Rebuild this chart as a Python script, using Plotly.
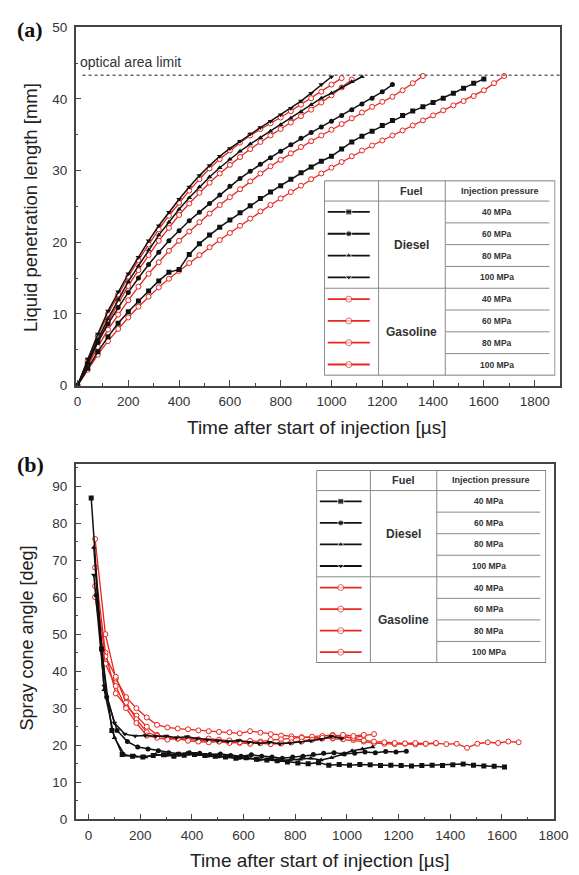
import plotly.graph_objects as go

W, H = 579, 875

# ---------------- (a) Liquid penetration length [mm] ----------------
OPTICAL_LIMIT = 43.3

pen_d40_t = list(range(0, 1601, 40))
pen_d40 = [0, 2.4, 4.7, 6.8, 8.7, 10.3, 11.8, 13.2, 14.6, 15.8,
           16.2, 18.3, 19.8, 21.0, 22.1, 23.1, 24.1, 25.1, 26.1, 27.0,
           27.9, 28.8, 29.7, 30.5, 31.3, 32.0, 33.0, 34.0, 34.8, 35.5,
           36.3, 37.0, 37.7, 38.3, 38.9, 39.5, 40.1, 40.8, 41.5, 42.2, 42.8]

pen_d60_t = list(range(0, 1241, 40))
pen_d60 = [0, 3.1, 6.0, 8.6, 10.9, 13.0, 15.0, 16.9, 18.6, 20.2,
           21.6, 23.0, 24.2, 25.4, 26.6, 27.8, 28.9, 29.9, 30.9, 31.8,
           32.7, 33.6, 34.5, 35.3, 36.1, 36.9, 37.7, 38.5, 39.3, 40.1, 41.0, 42.0]

pen_d80_t = list(range(0, 1121, 40))
pen_d80 = [0, 3.3, 6.4, 9.3, 12.0, 14.5, 16.7, 18.9, 21.0, 22.8,
           24.6, 26.2, 27.7, 29.1, 30.4, 31.6, 32.7, 33.7, 34.6, 35.5,
           36.4, 37.3, 38.2, 39.2, 40.1, 40.8, 41.6, 42.4, 43.1]

pen_d100_t = list(range(0, 1001, 40))
pen_d100 = [0, 3.7, 7.2, 10.4, 13.1, 15.6, 17.9, 20.2, 22.3, 24.2,
            26.0, 27.7, 29.3, 30.7, 32.0, 33.1, 34.1, 35.1, 36.0, 36.9,
            37.8, 38.7, 39.7, 40.8, 42.0, 43.1]

pen_g40_t = list(range(0, 1681, 40))
pen_g40 = [0, 2.2, 4.3, 6.2, 7.9, 9.5, 11.0, 12.4, 13.7, 14.9,
           16.0, 17.1, 18.2, 19.3, 20.3, 21.3, 22.3, 23.3, 24.3, 25.2,
           26.1, 27.0, 27.9, 28.8, 29.6, 30.4, 31.2, 32.0, 32.8, 33.5,
           34.2, 34.9, 35.6, 36.3, 37.0, 37.7, 38.4, 39.1, 39.7, 40.4,
           41.2, 42.2, 43.2]

pen_g60_t = list(range(0, 1361, 40))
pen_g60 = [0, 2.8, 5.4, 7.8, 9.9, 11.9, 13.8, 15.6, 17.2, 18.8,
           20.2, 21.5, 22.8, 24.0, 25.2, 26.3, 27.4, 28.5, 29.6, 30.6,
           31.5, 32.4, 33.3, 34.1, 34.9, 35.7, 36.5, 37.3, 38.1, 38.9,
           39.6, 40.3, 41.2, 42.2, 43.2]

pen_g80_t = list(range(0, 1081, 40))
pen_g80 = [0, 3.1, 6.1, 8.9, 11.5, 13.9, 16.1, 18.2, 20.2, 22.0,
           23.8, 25.4, 26.9, 28.3, 29.6, 30.8, 31.9, 33.0, 34.0, 34.9,
           35.8, 36.7, 37.6, 38.5, 39.5, 40.5, 41.6, 42.7]

pen_g100_t = list(range(0, 1041, 40))
pen_g100 = [0, 3.5, 6.9, 10.0, 12.7, 15.2, 17.5, 19.7, 21.8, 23.7,
            25.5, 27.2, 28.8, 30.3, 31.6, 32.8, 33.9, 34.9, 35.8, 36.6,
            37.4, 38.3, 39.2, 40.1, 41.0, 42.0, 42.9]

# ---------------- (b) Spray cone angle [deg] ----------------
ang_d40_t = list(range(10, 1611, 40))
ang_d40 = [86.8, 46, 24, 17.5, 17.0, 16.8, 17.2, 17.4, 17.0, 17.3,
           17.5, 17.2, 17.0, 16.8, 16.5, 16.6, 16.2, 16.0, 15.8, 15.5,
           15.2, 15.0, 15.3, 14.6, 14.8, 14.6, 14.8, 14.7, 14.5, 14.6,
           14.5, 14.4, 14.5, 14.6, 14.5, 14.7, 14.9, 14.6, 14.4, 14.3, 14.1]

ang_d60_t = list(range(30, 1231, 40))
ang_d60 = [60.5, 33, 24, 21, 19.5, 19.0, 18.5, 18.0, 17.6, 18.0,
           17.8, 17.5, 17.6, 17.2, 17.0, 17.4, 17.0, 16.8, 16.5, 16.8,
           17.0, 17.5, 17.8, 18.0, 17.6, 17.8, 18.2, 18.0, 18.3, 18.2, 18.4]

ang_d80_t = list(range(20, 1101, 40))
ang_d80 = [73.4, 35, 22, 17.3, 17.0, 16.8, 17.5, 17.2, 17.6, 17.8,
           17.4, 17.0, 16.8, 17.0, 16.4, 16.5, 16.0, 16.3, 15.8, 16.0,
           16.2, 16.5, 16.0, 16.6, 17.5, 18.5, 19.0, 19.5]

ang_d100_t = list(range(20, 981, 40))
ang_d100 = [66, 36, 26, 23, 22.5, 22.6, 22.4, 22.5, 22.0, 22.3,
            21.8, 21.5, 21.2, 21.0, 21.3, 20.8, 20.5, 20.8, 20.4, 20.6,
            20.8, 21.2, 21.6, 22.4, 21.8]

ang_g40_t = list(range(25, 1666, 40))
ang_g40 = [75.7, 50, 38, 33, 30, 27.5, 25.5, 24.8, 24.5, 24.3,
           24.0, 23.8, 23.6, 23.5, 23.2, 23.8, 23.4, 23.0, 22.6, 22.4,
           22.2, 22.0, 22.0, 21.8, 21.6, 21.4, 21.0, 20.6, 20.4, 20.3,
           20.4, 20.2, 20.4, 20.5, 20.3, 20.4, 19.3, 20.4, 20.8, 20.6,
           21.0, 20.8]

ang_g60_t = list(range(25, 1346, 40))
ang_g60 = [68, 45, 34, 30.5, 28, 25, 22.8, 22.0, 21.8, 21.5,
           21.3, 21.2, 21.0, 20.8, 20.6, 20.5, 20.6, 20.4, 20.5, 20.8,
           21.2, 21.5, 21.8, 22.0, 22.4, 21.8, 21.3, 21.0, 20.8, 20.6,
           20.5, 20.6, 20.4, 20.6]

ang_g80_t = list(range(25, 1106, 40))
ang_g80 = [63, 44, 38.5, 31.5, 27, 23.5, 22.5, 22.0, 21.8, 22.0,
           21.6, 21.8, 21.5, 21.3, 21.0, 21.2, 21.0, 21.4, 21.6, 21.8,
           22.0, 22.3, 22.5, 22.8, 22.4, 22.0, 22.6, 23.0]

ang_g100_t = list(range(25, 1066, 40))
ang_g100 = [60, 42, 36, 30, 26, 22.6, 22.0, 21.5, 21.8, 21.2,
            21.0, 20.8, 21.0, 20.6, 20.8, 20.4, 20.6, 20.3, 20.5, 20.8,
            21.0, 21.5, 22.0, 22.5, 22.8, 22.5, 22.8]

fuels = ["Diesel", "Gasoline"]
pressures = ["40 MPa", "60 MPa", "80 MPa", "100 MPa"]
x_ticks = [0, 200, 400, 600, 800, 1000, 1200, 1400, 1600, 1800]

BLACK = "#111111"
RED = "#e8261f"
d_symbols = ["square", "circle", "triangle-up", "triangle-down"]

pen_diesel = [(pen_d40_t, pen_d40), (pen_d60_t, pen_d60), (pen_d80_t, pen_d80), (pen_d100_t, pen_d100)]
pen_gas = [(pen_g40_t, pen_g40), (pen_g60_t, pen_g60), (pen_g80_t, pen_g80), (pen_g100_t, pen_g100)]
ang_diesel = [(ang_d40_t, ang_d40), (ang_d60_t, ang_d60), (ang_d80_t, ang_d80), (ang_d100_t, ang_d100)]
ang_gas = [(ang_g40_t, ang_g40), (ang_g60_t, ang_g60), (ang_g80_t, ang_g80), (ang_g100_t, ang_g100)]

fig = go.Figure()


def add_series(series_d, series_g, xa, ya):
    for (t, v) in series_g:
        fig.add_trace(go.Scatter(x=t, y=v, xaxis=xa, yaxis=ya, mode="lines+markers",
                                 line=dict(color=RED, width=1.3),
                                 marker=dict(symbol="circle", size=5, color="white",
                                             line=dict(color=RED, width=1)),
                                 showlegend=False, hoverinfo="skip"))
    for (t, v), s in zip(series_d, d_symbols):
        fig.add_trace(go.Scatter(x=t, y=v, xaxis=xa, yaxis=ya, mode="lines+markers",
                                 line=dict(color=BLACK, width=1.5),
                                 marker=dict(symbol=s, size=5, color=BLACK),
                                 showlegend=False, hoverinfo="skip"))


add_series(pen_diesel, pen_gas, "x", "y")
add_series(ang_diesel, ang_gas, "x2", "y2")

# optical limit line
fig.add_shape(type="line", xref="x", yref="y", x0=20, x1=1900, y0=OPTICAL_LIMIT, y1=OPTICAL_LIMIT,
              line=dict(color="#666666", width=1.5, dash="dot"))


def px(p):
    return p / W


def py(p):
    return 1 - p / H


AX_LINE = "#444444"
TICK_FONT = dict(family="Liberation Sans, Arial, sans-serif", size=13.5, color="#333333")


def axis_common():
    return dict(showline=True, mirror=True, linecolor=AX_LINE, linewidth=1.5,
                showgrid=False, zeroline=False, ticks="inside", ticklen=6,
                tickwidth=1.2, tickcolor=AX_LINE, tickfont=TICK_FONT)


layout = dict(
    width=W, height=H, margin=dict(l=0, r=0, t=0, b=0),
    paper_bgcolor="white", plot_bgcolor="white", showlegend=False,
    xaxis=dict(domain=[px(67.7), px(566.7)], range=[-7, 1900], anchor="y",
               tickmode="array", tickvals=x_ticks,
               minor=dict(ticks="inside", ticklen=3, dtick=100, tick0=0, tickcolor=AX_LINE),
               ticklabelstandoff=3, **axis_common()),
    yaxis=dict(domain=[py(377), py(12.5)], range=[0, 50], anchor="x",
               tickmode="linear", tick0=0, dtick=10,
               minor=dict(ticks="inside", ticklen=3, dtick=5, tick0=0, tickcolor=AX_LINE),
               ticklabelstandoff=4, **axis_common()),
    xaxis2=dict(domain=[px(67.7), px(560)], range=[-50, 1800], anchor="y2",
                tickmode="array", tickvals=x_ticks,
                minor=dict(ticks="inside", ticklen=3, dtick=100, tick0=0, tickcolor=AX_LINE),
                ticklabelstandoff=3, **axis_common()),
    yaxis2=dict(domain=[py(818.3), py(456.7)], range=[0, 96], anchor="x2",
                tickmode="linear", tick0=0, dtick=10,
                minor=dict(ticks="inside", ticklen=3, dtick=5, tick0=0, tickcolor=AX_LINE),
                ticklabelstandoff=4, **axis_common()),
)

# legend table axes
legend_boxes = {
    "3": ([px(323.8), px(561.7)], [py(366.7), py(168.5)]),
    "4": ([px(315.7), px(552.3)], [py(659.3), py(463.3)]),
}
for k, (dx, dy) in legend_boxes.items():
    layout["xaxis" + k] = dict(domain=dx, range=[0, 1], anchor="y" + k, visible=False, fixedrange=True)
    layout["yaxis" + k] = dict(domain=dy, range=[1, 0], anchor="x" + k, visible=False, fixedrange=True)

fig.update_layout(**layout)

HDR = 0.105
ROW = (1 - HDR) / 8
C1, C2 = 0.235, 0.524
TBL = "#8a8a8a"
TXT = "#333333"
LF = "Liberation Sans, Arial, sans-serif"

for k in legend_boxes:
    xr, yr = "x" + k, "y" + k
    fig.add_shape(type="rect", xref=xr, yref=yr, x0=0, x1=1, y0=0, y1=1,
                  line=dict(color="#555555", width=1.3))
    for xv in (C1, C2):
        fig.add_shape(type="line", xref=xr, yref=yr, x0=xv, x1=xv, y0=0, y1=1,
                      line=dict(color=TBL, width=1))
    for yv in (HDR, HDR + 4 * ROW):
        fig.add_shape(type="line", xref=xr, yref=yr, x0=0, x1=0.975, y0=yv, y1=yv,
                      line=dict(color=TBL, width=1))
    for i in list(range(1, 4)) + list(range(5, 8)):
        yv = HDR + i * ROW
        fig.add_shape(type="line", xref=xr, yref=yr, x0=C2, x1=0.975, y0=yv, y1=yv,
                      line=dict(color=TBL, width=1))
    fig.add_annotation(xref=xr, yref=yr, x=(C1 + C2) / 2, y=HDR / 2, text="<b>Fuel</b>",
                       showarrow=False, font=dict(family=LF, size=11, color=TXT))
    fig.add_annotation(xref=xr, yref=yr, x=(C2 + 1) / 2, y=HDR / 2, text="<b>Injection pressure</b>",
                       showarrow=False, font=dict(family=LF, size=9, color=TXT))
    for j, fuel in enumerate(fuels):
        fig.add_annotation(xref=xr, yref=yr, x=(C1 + C2) / 2, y=HDR + (j * 4 + 2) * ROW,
                           text="<b>%s</b>" % fuel, showarrow=False,
                           font=dict(family=LF, size=12, color=TXT))
        for i, p in enumerate(pressures):
            r = j * 4 + i
            yc = HDR + (r + 0.5) * ROW
            fig.add_annotation(xref=xr, yref=yr, x=(C2 + 0.975) / 2, y=yc,
                               text="<b>%s</b>" % p, showarrow=False,
                               font=dict(family=LF, size=8.5, color=TXT))
            if j == 0:
                fig.add_trace(go.Scatter(x=[0.015, 0.106, 0.197], y=[yc] * 3, xaxis=xr, yaxis=yr,
                                         mode="lines+markers", line=dict(color=BLACK, width=1.8),
                                         marker=dict(symbol=d_symbols[i], size=[0, 6, 0], color=BLACK),
                                         showlegend=False, hoverinfo="skip"))
            else:
                fig.add_trace(go.Scatter(x=[0.015, 0.106, 0.197], y=[yc] * 3, xaxis=xr, yaxis=yr,
                                         mode="lines+markers", line=dict(color=RED, width=1.8),
                                         marker=dict(symbol="circle", size=[0, 6, 0], color="white",
                                                     line=dict(color=RED, width=1)),
                                         showlegend=False, hoverinfo="skip"))

TITLE_FONT = dict(family="Liberation Sans, Arial, sans-serif", size=19, color="#222222")


def ann(text, x, y, font, angle=0, xanchor="center"):
    fig.add_annotation(xref="paper", yref="paper", x=px(x), y=py(y), text=text, showarrow=False,
                       textangle=angle, font=font, xanchor=xanchor, yanchor="middle")


ann("Time after start of injection [µs]", 316, 420, TITLE_FONT)
ann("Liquid penetration length [mm]", 21, 196, dict(TITLE_FONT, size=18.5), angle=-90)
ann("Time after start of injection [µs]", 319, 860, TITLE_FONT)
ann("Spray cone angle [deg]", 18, 634, dict(TITLE_FONT, size=18), angle=-90)
ann("optical area limit", 70, 48, dict(family="Liberation Sans, Arial, sans-serif", size=14, color="#333333"),
    xanchor="left")
ann("<b>(a)</b>", 21, 15, dict(family="Liberation Serif, Times New Roman, serif", size=22, color="#111111"))
ann("<b>(b)</b>", 21, 457, dict(family="Liberation Serif, Times New Roman, serif", size=22, color="#111111"))

fig.write_html("out.html")
